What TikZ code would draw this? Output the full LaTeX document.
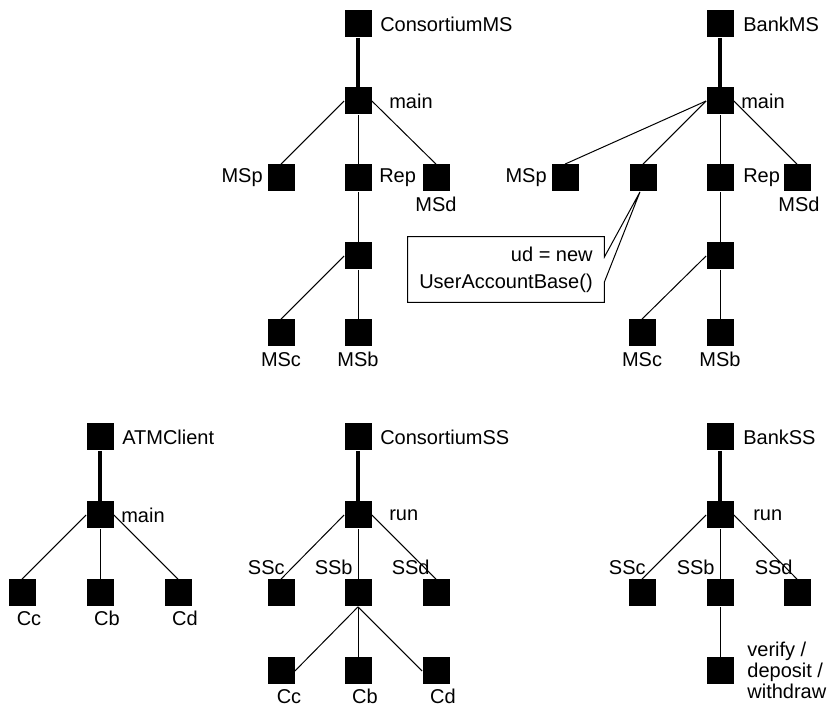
\documentclass[tikz,border=0pt]{standalone}
\usepackage{fontspec}
\setmainfont{Liberation Sans}

\tikzset{
  sq/.style={rectangle, fill=black, minimum size=13.5pt, inner sep=0pt},
  lbl/.style={inner sep=0pt},
  trunk/.style={line width=1.8pt},
  twig/.style={line width=0.5pt},
}

\begin{document}
\begin{tikzpicture}[x=0.5pt, y=-0.5pt, font=\fontsize{10}{12}\selectfont]
  \useasboundingbox (0,0) rectangle (827,711);

  % ConsortiumMS
  \node[sq] (cms) at (358,24) {};
  \node[sq] (cmain) at (358,101) {};
  \node[sq] (msp) at (281,178) {};
  \node[sq] (rep) at (358,178) {};
  \node[sq] (msd) at (436,178) {};
  \node[sq] (clow) at (358,256) {};
  \node[sq] (msc) at (281,333) {};
  \node[sq] (msb) at (358,333) {};
  \node[lbl, anchor=west] (cms-l) at ([xshift=4pt]cms.east) {ConsortiumMS};
  \node[lbl, anchor=west] (cmain-l) at ([xshift=8.5pt]cmain.east) {main};
  \node[lbl, anchor=east] (msp-l) at ([xshift=-2pt]msp.west) {MSp};
  \node[lbl, anchor=west] (rep-l) at ([xshift=3.5pt]rep.east) {Rep};
  \node[lbl, anchor=north] (msd-l) at ([yshift=-2.5pt]msd.south) {MSd};
  \node[lbl, anchor=north] (msc-l) at ([yshift=-2.5pt]msc.south) {MSc};
  \node[lbl, anchor=north] (msb-l) at ([yshift=-2.5pt]msb.south) {MSb};
  \draw[trunk] (cms) -- (cmain);
  \draw[twig] (cmain.west) -- (msp.north);
  \draw[twig] (cmain) -- (rep);
  \draw[twig] (cmain.east) -- (msd.north);
  \draw[twig] (rep) -- (clow);
  \draw[twig] (clow.west) -- (msc.north);
  \draw[twig] (clow) -- (msb);

  % BankMS
  \node[sq] (bms) at (720,24) {};
  \node[sq] (bmain) at (720,101) {};
  \node[sq] (bmsp) at (565,178) {};
  \node[sq] (ud) at (643,178) {};
  \node[sq] (brep) at (720,178) {};
  \node[sq] (bmsd) at (797,178) {};
  \node[sq] (blow) at (720,256) {};
  \node[sq] (bmsc) at (642,333) {};
  \node[sq] (bmsb) at (720,333) {};
  \node[lbl, anchor=west] (bms-l) at ([xshift=4.5pt]bms.east) {BankMS};
  \node[lbl, anchor=west] (bmain-l) at ([xshift=3.5pt]bmain.east) {main};
  \node[lbl, anchor=east] (bmsp-l) at ([xshift=-2pt]bmsp.west) {MSp};
  \node[lbl, anchor=west] (brep-l) at ([xshift=4.5pt]brep.east) {Rep};
  \node[lbl, anchor=north] (bmsd-l) at ([xshift=1pt, yshift=-2.5pt]bmsd.south) {MSd};
  \node[lbl, anchor=north] (bmsc-l) at ([yshift=-2.5pt]bmsc.south) {MSc};
  \node[lbl, anchor=north] (bmsb-l) at ([yshift=-2.5pt]bmsb.south) {MSb};
  \node[lbl, align=right, minimum width=98pt, minimum height=32.5pt,
    font=\fontsize{10}{13.5}\selectfont] (note) at (506,269.5)
    {ud = new\\UserAccountBase()};
  \draw[trunk] (bms) -- (bmain);
  \draw[twig] (bmain.west) -- (bmsp.north);
  \draw[twig] (bmain.west) -- (ud.north);
  \draw[twig] (bmain) -- (brep);
  \draw[twig] (bmain.east) -- (bmsd.north);
  \draw[twig] (brep) -- (blow);
  \draw[twig] (blow.west) -- (bmsc.north);
  \draw[twig] (blow) -- (bmsb);
  \draw[twig] (note.north west) -- (note.north east) -- ([yshift=6.25pt]note.east)
    -- ([xshift=-1.5pt]ud.south) -- ([yshift=-6.25pt]note.east) -- (note.south east)
    -- (note.south west) -- cycle;

  % ATMClient
  \node[sq] (atm) at (100,437) {};
  \node[sq] (amain) at (100,515) {};
  \node[sq] (acc) at (22,593) {};
  \node[sq] (acb) at (100,593) {};
  \node[sq] (acd) at (178,593) {};
  \node[lbl, anchor=west] (atm-l) at ([xshift=4pt]atm.east) {ATMClient};
  \node[lbl, anchor=west] (amain-l) at ([xshift=3.5pt]amain.east) {main};
  \node[lbl, anchor=north] (acc-l) at ([xshift=3.5pt, yshift=-2pt]acc.south) {Cc};
  \node[lbl, anchor=north] (acb-l) at ([xshift=3.5pt, yshift=-2pt]acb.south) {Cb};
  \node[lbl, anchor=north] (acd-l) at ([xshift=3.5pt, yshift=-2pt]acd.south) {Cd};
  \draw[trunk] (atm) -- (amain);
  \draw[twig] (amain.west) -- (acc.north);
  \draw[twig] (amain) -- (acb);
  \draw[twig] (amain.east) -- (acd.north);

  % ConsortiumSS
  \node[sq] (css) at (358,437) {};
  \node[sq] (crun) at (358,515) {};
  \node[sq] (cssc) at (281,593) {};
  \node[sq] (cssb) at (358,593) {};
  \node[sq] (cssd) at (436,593) {};
  \node[sq] (ccc) at (281,671) {};
  \node[sq] (ccb) at (358,671) {};
  \node[sq] (ccd) at (436,671) {};
  \node[lbl, anchor=west] (css-l) at ([xshift=4pt]css.east) {ConsortiumSS};
  \node[lbl, anchor=west] (crun-l) at ([xshift=8.5pt]crun.east) {run};
  \node[lbl, anchor=south east] (cssc-l) at ([xshift=2pt, yshift=2.25pt]cssc.north) {SSc};
  \node[lbl, anchor=south east] (cssb-l) at ([xshift=-2.5pt, yshift=2.25pt]cssb.north) {SSb};
  \node[lbl, anchor=south east] (cssd-l) at ([xshift=-3pt, yshift=2.25pt]cssd.north) {SSd};
  \node[lbl, anchor=north] (ccc-l) at ([xshift=4pt, yshift=-2pt]ccc.south) {Cc};
  \node[lbl, anchor=north] (ccb-l) at ([xshift=3.5pt, yshift=-2pt]ccb.south) {Cb};
  \node[lbl, anchor=north] (ccd-l) at ([xshift=3.5pt, yshift=-2pt]ccd.south) {Cd};
  \draw[trunk] (css) -- (crun);
  \draw[twig] (crun.west) -- (cssc.north);
  \draw[twig] (crun) -- (cssb);
  \draw[twig] (crun.east) -- (cssd.north);
  \draw[twig] (cssb.south) -- (ccc.east);
  \draw[twig] (cssb) -- (ccb);
  \draw[twig] (cssb.south) -- (ccd.west);

  % BankSS
  \node[sq] (bss) at (720,437) {};
  \node[sq] (brun) at (720,515) {};
  \node[sq] (bssc) at (642,593) {};
  \node[sq] (bssb) at (720,593) {};
  \node[sq] (bssd) at (797,593) {};
  \node[sq] (bver) at (720,671) {};
  \node[lbl, anchor=west] (bss-l) at ([xshift=4.5pt]bss.east) {BankSS};
  \node[lbl, anchor=west] (brun-l) at ([xshift=9.5pt]brun.east) {run};
  \node[lbl, anchor=south east] (bssc-l) at ([xshift=2pt, yshift=2.25pt]bssc.north) {SSc};
  \node[lbl, anchor=south east] (bssb-l) at ([xshift=-2.5pt, yshift=2.25pt]bssb.north) {SSb};
  \node[lbl, anchor=south east] (bssd-l) at ([xshift=-2pt, yshift=2.25pt]bssd.north) {SSd};
  \node[lbl, anchor=north west, align=left, font=\fontsize{10}{10.3}\selectfont]
    (bver-l) at (747,642) {verify /\\deposit /\\withdraw};
  \draw[trunk] (bss) -- (brun);
  \draw[twig] (brun.west) -- (bssc.north);
  \draw[twig] (brun) -- (bssb);
  \draw[twig] (brun.east) -- (bssd.north);
  \draw[twig] (bssb) -- (bver);
\end{tikzpicture}
\end{document}
